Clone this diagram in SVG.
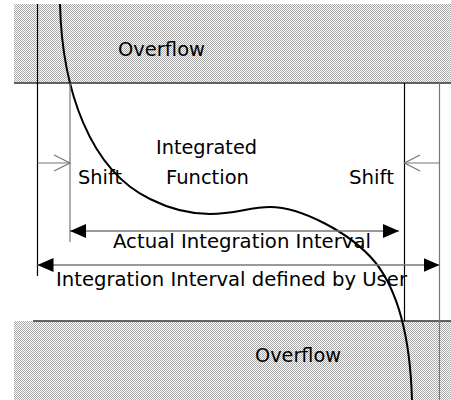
<svg xmlns="http://www.w3.org/2000/svg" width="451" height="400" viewBox="0 0 451 400">
<style>
.t{font-family:"DejaVu Sans","Liberation Sans",sans-serif;font-size:19.5px;fill:#000}
.g{stroke:#777;stroke-width:1.2;fill:none}
.k{stroke:#000;stroke-width:1.2;fill:none}
.h{stroke:#333;stroke-width:1.5;fill:none}
.dim{stroke:#777;stroke-width:1.5;fill:none}
</style>
<defs>
<pattern id="chk" width="2" height="2" patternUnits="userSpaceOnUse">
<rect width="2" height="2" fill="#fff"/>
<rect width="1" height="1" fill="#a8a8a8"/>
<rect x="1" y="1" width="1" height="1" fill="#a8a8a8"/>
</pattern>
<marker id="fa" viewBox="0 0 16 14" refX="16" refY="7" markerWidth="16" markerHeight="14" markerUnits="userSpaceOnUse" orient="auto-start-reverse">
<path d="M0,0 L16,7 L0,14 Z" fill="#000"/>
</marker>
</defs>
<g id="overflow-top">
<rect x="14" y="4" width="437" height="79" fill="url(#chk)"/>
<line class="h" x1="14" y1="83" x2="451" y2="83"/>
<text class="t" x="118" y="56" textLength="87" lengthAdjust="spacingAndGlyphs">Overflow</text>
</g>
<g id="overflow-bottom">
<rect x="14" y="321" width="437" height="79" fill="url(#chk)"/>
<line class="h" x1="33" y1="321" x2="451" y2="321"/>
<text class="t" x="255" y="362" textLength="86" lengthAdjust="spacingAndGlyphs">Overflow</text>
</g>
<g id="function">
<path d="M60,4 C62,90 90,170 150,199 C170,209 190,214 210,214 C235,214 250,207 270,207 C300,207 350,232 375,262 C395,287 410,330 412,400" fill="none" stroke="#000" stroke-width="2"/>
<text class="t" x="156" y="154" textLength="101" lengthAdjust="spacingAndGlyphs">Integrated</text>
<text class="t" x="166" y="184" textLength="83" lengthAdjust="spacingAndGlyphs">Function</text>
</g>
<g id="connectors">
<line class="k" x1="37.5" y1="4" x2="37.5" y2="276"/>
<line class="g" x1="70" y1="83" x2="70" y2="242"/>
<line class="k" x1="404.5" y1="83" x2="404.5" y2="321"/>
<line class="g" x1="439.5" y1="83" x2="439.5" y2="400"/>
<line class="g" x1="37.5" y1="163" x2="70" y2="163"/>
<polyline class="g" points="54,155 70,163 54,171"/>
<line class="g" x1="439.5" y1="163" x2="404.5" y2="163"/>
<polyline class="g" points="420,155 404.5,163 420,171"/>
<line class="dim" x1="70" y1="231" x2="399" y2="231" marker-start="url(#fa)" marker-end="url(#fa)"/>
<line class="dim" x1="37.5" y1="265" x2="439.5" y2="265" marker-start="url(#fa)" marker-end="url(#fa)"/>
</g>
<g id="labels">
<text class="t" x="78" y="184" textLength="44" lengthAdjust="spacingAndGlyphs">Shift</text>
<text class="t" x="349" y="184" textLength="45" lengthAdjust="spacingAndGlyphs">Shift</text>
<text class="t" x="113" y="248" textLength="258" lengthAdjust="spacingAndGlyphs">Actual Integration Interval</text>
<text class="t" x="56" y="286" textLength="351" lengthAdjust="spacingAndGlyphs">Integration Interval defined by User</text>
</g>
</svg>
